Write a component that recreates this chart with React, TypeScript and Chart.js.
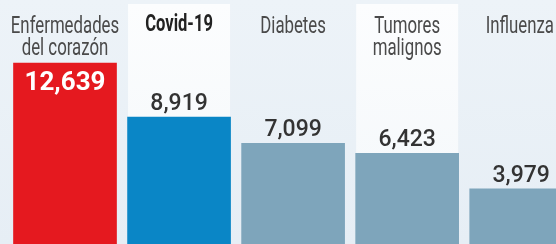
import React, { useEffect, useRef } from "react";
import { Chart, registerables } from "chart.js";

Chart.register(...registerables);

const categories: string[][] = [
  ["Enfermedades", "del corazón"],
  ["Covid-19"],
  ["Diabetes"],
  ["Tumores", "malignos"],
  ["Influenza"],
];
const deaths: number[] = [12639, 8919, 7099, 6423, 3979];
const barColors: string[] = ["#e5191f", "#0a86c6", "#7ea5bb", "#7ea5bb", "#7ea5bb"];
const highlightedPanels: number[] = [1, 3];
const boldLabels: number[] = [1];

const panelsPlugin = {
  id: "panels",
  beforeDatasetsDraw(chart: any) {
    const { ctx } = chart;
    const x = chart.scales.x;
    ctx.save();
    highlightedPanels.forEach((i) => {
      const cx = x.getPixelForValue(i);
      const g = ctx.createLinearGradient(0, 4, 0, 244);
      g.addColorStop(0, "#fcfdfe");
      g.addColorStop(1, "#f3f7fa");
      ctx.fillStyle = g;
      ctx.fillRect(cx - 51, 4, 102, 240);
    });
    ctx.restore();
  },
};

function drawStretched(ctx: any, text: string, x: number, y: number, sx: number, maxRight: number) {
  const w = ctx.measureText(text).width * sx;
  const px = Math.min(x, maxRight - w / 2);
  ctx.save();
  ctx.translate(px, y);
  ctx.scale(sx, 1);
  ctx.fillText(text, 0, 0);
  ctx.restore();
}

const labelsPlugin = {
  id: "labels",
  afterDatasetsDraw(chart: any) {
    const { ctx } = chart;
    const meta = chart.getDatasetMeta(0);
    const maxRight = chart.width - 2;
    ctx.save();
    ctx.textAlign = "center";
    ctx.textBaseline = "alphabetic";
    meta.data.forEach((bar: any, i: number) => {
      const cx = bar.x;
      const bold = boldLabels.includes(i);
      ctx.fillStyle = bold ? "#222222" : "#4a4a4a";
      ctx.font = bold ? "bold 23px Roboto" : "24px Roboto";
      categories[i].forEach((line, j) => {
        drawStretched(ctx, line, cx, (bold ? 31 : 33) + j * 21.5, bold ? 0.72 : 0.7, maxRight);
      });
      const text = deaths[i].toLocaleString("en-US");
      if (i === 0) {
        ctx.fillStyle = "#ffffff";
        ctx.font = "bold 26px Roboto";
        ctx.fillText(text, cx, bar.y + 27);
      } else {
        ctx.fillStyle = "#333333";
        ctx.font = "500 23px Roboto";
        ctx.fillText(text, cx, bar.y - 7);
      }
    });
    ctx.restore();
  },
};

export default function App() {
  const ref = useRef<HTMLCanvasElement | null>(null);
  useEffect(() => {
    if (!ref.current) return;
    const chart = new Chart(ref.current, {
      type: "bar",
      data: {
        datasets: [
          {
            data: deaths.map((v, i) => ({ x: i, y: v })),
            backgroundColor: barColors,
            borderWidth: 0,
            barThickness: 103,
          },
        ],
      },
      options: {
        animation: false,
        responsive: false,
        layout: { padding: 0 },
        plugins: { legend: { display: false }, tooltip: { enabled: false } },
        scales: {
          x: { type: "linear", display: false, offset: false, grid: { offset: false }, min: -0.57, max: 4.305 },
          y: { display: false, min: 172, max: 16977 },
        },
      },
      plugins: [panelsPlugin, labelsPlugin],
    });
    return () => chart.destroy();
  }, []);
  return (
    <div
      style={{
        position: "fixed",
        left: 0,
        top: 0,
        width: 556,
        height: 244,
        background: "linear-gradient(180deg, #edf3f8 0%, #e6eef5 100%)",
      }}
    >
      <canvas ref={ref} width={556} height={244} />
    </div>
  );
}
